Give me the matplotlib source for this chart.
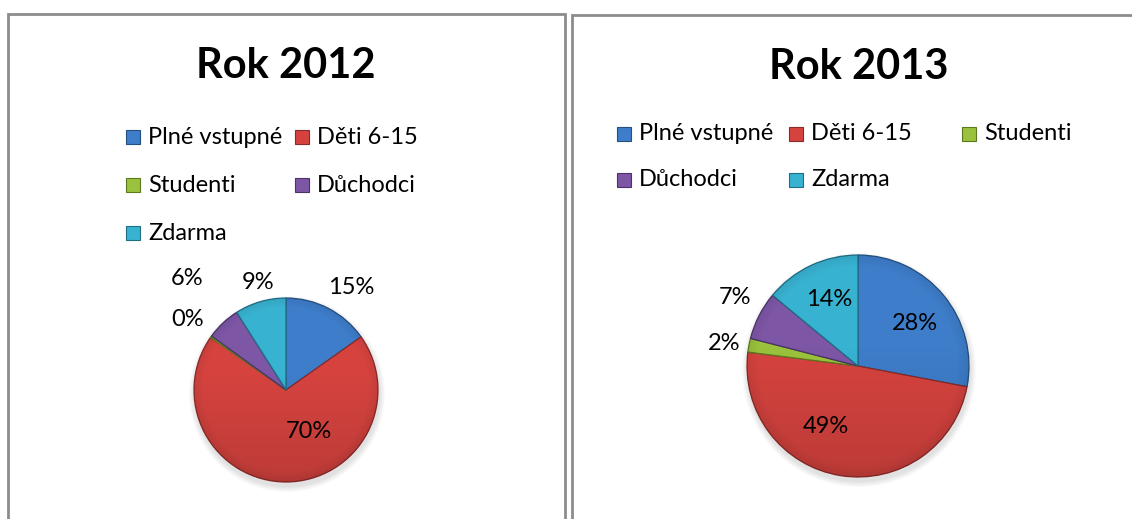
import numpy as np
import matplotlib
matplotlib.use('Agg')
import matplotlib.pyplot as plt
from matplotlib.patches import Rectangle, Circle

# ------------------------------------------------------------------------------
# data
# ------------------------------------------------------------------------------
categories = ['Plné vstupné', 'Děti 6-15', 'Studenti', 'Důchodci', 'Zdarma']
titles = ['Rok 2012', 'Rok 2013']
share_2012 = [15.2, 69.5, 0.3, 6.0, 9.0]
share_2013 = [28.0, 49.0, 2.0, 7.0, 14.0]

colors = ['#3e7dca', '#d6433f', '#9bc23c', '#7d56a6', '#38b2d1']
edges = ['#24507f', '#8a2a28', '#5b7a1f', '#4b3268', '#1f6e84']

# ------------------------------------------------------------------------------
# layout (pixels of the 1132 x 519 picture)
# ------------------------------------------------------------------------------
W, H = 1132, 519
plt.rcParams['font.family'] = ['Lato', 'DejaVu Sans']

panels = [
    dict(box=(8, 14, 565, 540), cx=286, cy=390, r=92, tx=286, ty=66,
         leg_x=[133, 302], leg_y=[137, 185, 233], ncol=2,
         lbl_ang=[57.5, -61.3, 144.4, 131.7, 104.5],
         lbl_dist=[1.315, 0.52, 1.32, 1.62, 1.21]),
    dict(box=(572, 15, 1150, 540), cx=858, cy=366, r=111, tx=859, ty=67,
         leg_x=[624, 796, 969], leg_y=[134, 180], ncol=3,
         lbl_ang=[37.0, -117.7, 170.3, 151.0, 113.7],
         lbl_dist=[0.64, 0.62, 1.225, 1.27, 0.65]),
]
series = [share_2012, share_2013]

fig = plt.figure(figsize=(W / 100, H / 100), dpi=100)
ax = fig.add_axes([0, 0, 1, 1])


def yy(y):
    # picture rows run downwards, the axes upwards
    return H - y


for p, vals, title in zip(panels, series, titles):
    x0, y0, x1, y1 = p['box']
    ax.add_patch(Rectangle((x0, yy(y1)), x1 - x0, y1 - y0, fill=False,
                           edgecolor='#8c8c8c', linewidth=2.0, zorder=1))

    ax.text(p['tx'], yy(p['ty']), title, ha='center', va='center',
            fontsize=30, fontweight='bold', color='black')

    # legend
    for i, name in enumerate(categories):
        col = i % p['ncol']
        row = i // p['ncol']
        mx, my = p['leg_x'][col], yy(p['leg_y'][row])
        ax.add_patch(Rectangle((mx - 7, my - 7), 14, 14, facecolor=colors[i],
                               edgecolor=edges[i], linewidth=0.8, zorder=3))
        ax.text(mx + 15, my, name, ha='left', va='center', fontsize=17,
                color='black')

    # soft shadow below the pie
    for k in range(6):
        ax.add_patch(Circle((p['cx'] + 1, yy(p['cy']) - 4), p['r'] + 6 - k,
                            facecolor='black', edgecolor='none',
                            alpha=0.018, zorder=2))

    wedges, _ = ax.pie(vals, colors=colors, startangle=90, counterclock=False,
                       center=(p['cx'], yy(p['cy'])), radius=p['r'],
                       wedgeprops=dict(linewidth=0.9, zorder=3))
    for w, ec in zip(wedges, edges):
        w.set_edgecolor(ec)
        w.set_zorder(3)

    # bevel-like shading over the disc
    n = 200
    gy, gx = np.mgrid[-1:1:n * 1j, -1:1:n * 1j]
    rr = np.sqrt(gx ** 2 + gy ** 2)
    shade = np.zeros((n, n, 4))
    dark = np.clip(0.5 * (gy + 0.2), 0, 1) * 0.2 + np.clip(rr - 0.9, 0, 1) * 0.7
    shade[..., 3] = np.clip(dark, 0, 0.3)
    im = ax.imshow(shade, extent=(p['cx'] - p['r'], p['cx'] + p['r'],
                                  yy(p['cy']) - p['r'], yy(p['cy']) + p['r']),
                   origin='upper', zorder=4, interpolation='bilinear')
    clip = Circle((p['cx'], yy(p['cy'])), p['r'], transform=ax.transData)
    im.set_clip_path(clip)

    for v, a, d in zip(vals, p['lbl_ang'], p['lbl_dist']):
        t = np.deg2rad(a)
        lx = p['cx'] + d * p['r'] * np.cos(t)
        ly = yy(p['cy']) + d * p['r'] * np.sin(t)
        ax.text(lx, ly, '%d%%' % round(v), ha='center', va='center',
                fontsize=17, color='black', zorder=5)

ax.set_xlim(0, W)
ax.set_ylim(0, H)
ax.set_aspect('auto')
ax.axis('off')

fig.savefig('out.png', dpi=100)
